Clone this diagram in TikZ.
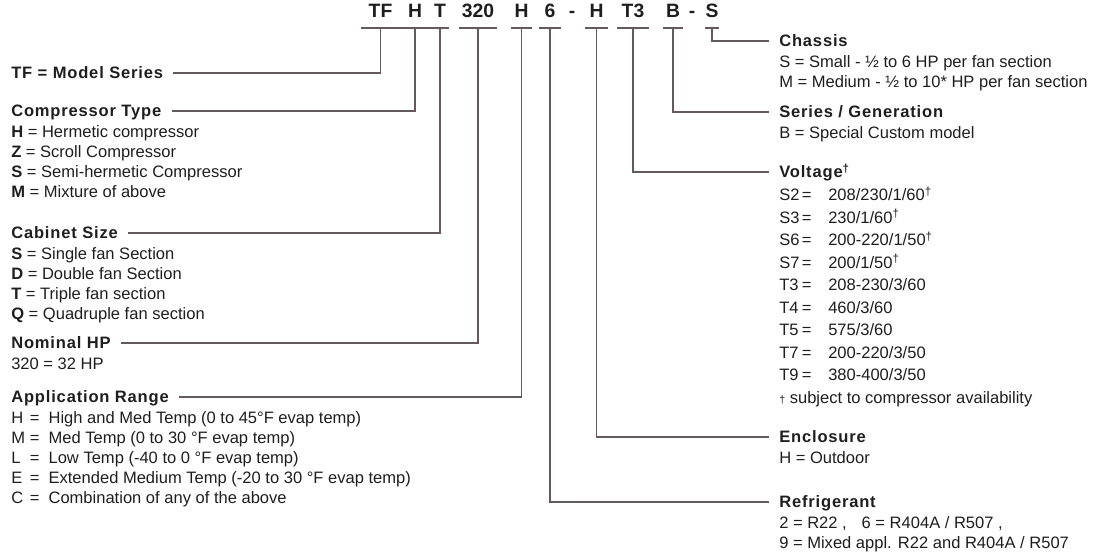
\documentclass[tikz,border=0pt]{standalone}
\usepackage{fontspec}
\setmainfont{Liberation Sans}
\newfontfamily\headfont{Liberation Sans}[LetterSpace=5]
\usepackage{xcolor}
\usepackage{tikz}
\usetikzlibrary{positioning, calc}

\definecolor{wire}{RGB}{98,90,92}
\definecolor{ink}{RGB}{30,30,30}
\newcommand{\dagmark}{\textsuperscript{†}}
\newcommand{\approw}[2]{\makebox[14pt][l]{#1}\makebox[14pt][l]{=}#2}
\newcommand{\voltrow}[2]{\makebox[17pt][l]{#1}\makebox[19.75pt][l]{=}#2}

\begin{document}
\begin{tikzpicture}[x=0.75pt,y=-0.75pt,
	code node/.style={font=\fontsize{14.5}{15}\selectfont\bfseries,text=ink,inner xsep=0pt,inner ysep=0pt,text depth=7.5pt,anchor=south},
	head node/.style={font=\fontsize{12.4}{15}\selectfont\headfont\bfseries,text=ink,inner xsep=7.5pt,inner ysep=0pt,text height=8.9pt,text depth=0pt,anchor=west},
	item node/.style={font=\fontsize{12.4}{15}\selectfont,text=ink,align=left,inner xsep=7.5pt,inner ysep=0pt},
	link line/.style={draw=wire,line width=1.1pt}]
	
	\useasboundingbox (0,0) rectangle (1098,555);
	
	% model code
	\node[code node, minimum width=29.25pt] (cTF) at (380.5,28) {TF};
	\node[code node, minimum width=10.5pt] (cHc) at (415,28) {H};
	\node[code node, minimum width=13.5pt] (cT) at (440,28) {T};
	\node[code node, minimum width=28.5pt] (c320) at (478,28) {320};
	\node[code node, minimum width=15.75pt] (cHa) at (521.5,28) {H};
	\node[code node, minimum width=16.5pt] (c6) at (550,28) {6};
	\node[code node] (d1) at (572,28) {-};
	\node[code node, minimum width=17.25pt] (cHe) at (596.5,28) {H};
	\node[code node, minimum width=23.25pt] (cT3) at (633,28) {T3};
	\node[code node, minimum width=15pt] (cB) at (673,28) {B};
	\node[code node] (d2) at (692,28) {-};
	\node[code node, minimum width=9pt] (cS) at (712,28) {S};
	
	% left side
	\node[head node] (hTF) at (1,73) {TF = Model Series};
	
	\node[head node] (hComp) at (1,111) {Compressor Type};
	\node[item node, below=4.5pt of hComp.south west, anchor=north west] (lComp)
	{\strut\textbf{H} = Hermetic compressor\\ \textbf{Z} = Scroll Compressor\\
		\textbf{S} = Semi-hermetic Compressor\\ \textbf{M} = Mixture of above};
	
	\node[head node] (hCab) at (1,233) {Cabinet Size};
	\node[item node, below=4.5pt of hCab.south west, anchor=north west] (lCab)
	{\strut\textbf{S} = Single fan Section\\ \textbf{D} = Double fan Section\\
		\textbf{T} = Triple fan section\\ \textbf{Q} = Quadruple fan section};
	
	\node[head node] (hNom) at (1,343) {Nominal HP};
	\node[item node, below=4.5pt of hNom.south west, anchor=north west] (lNom)
	{\strut 320 = 32 HP};
	
	\node[head node] (hApp) at (1,397) {Application Range};
	\node[item node, below=4.5pt of hApp.south west, anchor=north west] (lApp)
	{\strut\approw{H}{High and Med Temp (0 to 45°F evap temp)}\\
		\approw{M}{Med Temp (0 to 30 °F evap temp)}\\
		\approw{L}{Low Temp (-40 to 0 °F evap temp)}\\
		\approw{E}{Extended Medium Temp (-20 to 30 °F evap temp)}\\
		\approw{C}{Combination of any of the above}};
	
	% right side
	\node[head node] (hChas) at (769,41) {Chassis};
	\node[item node, below=4.5pt of hChas.south west, anchor=north west] (lChas)
	{\strut S = Small - ½ to 6 HP per fan section\\ M = Medium - ½ to 10* HP per fan section};
	
	\node[head node] (hSer) at (769,112) {Series / Generation};
	\node[item node, below=4.5pt of hSer.south west, anchor=north west] (lSer)
	{\strut B = Special Custom model};
	
	\node[head node] (hVolt) at (769,172) {Voltage\dagmark};
	\node[item node, font=\fontsize{12.4}{16.875}\selectfont, below=5.06pt of hVolt.south west, anchor=north west] (lVolt)
	{\strut\voltrow{S2}{208/230/1/60\dagmark}\\ \voltrow{S3}{230/1/60\dagmark}\\
		\voltrow{S6}{200-220/1/50\dagmark}\\ \voltrow{S7}{200/1/50\dagmark}\\
		\voltrow{T3}{208-230/3/60}\\ \voltrow{T4}{460/3/60}\\ \voltrow{T5}{575/3/60}\\
		\voltrow{T7}{200-220/3/50}\\ \voltrow{T9}{380-400/3/50}\\
		{\footnotesize †} subject to compressor availability};
	
	\node[head node] (hEnc) at (769,437) {Enclosure};
	\node[item node, below=4.5pt of hEnc.south west, anchor=north west] (lEnc)
	{\strut H = Outdoor};
	
	\node[head node] (hRef) at (769,502) {Refrigerant};
	\node[item node, below=4.5pt of hRef.south west, anchor=north west] (lRef)
	{\strut 2 = R22 ,\hspace{0.9em}6 = R404A / R507 ,\\ 9 = Mixed appl. R22 and R404A / R507};
	
	% underlines
	\draw[link line] (cTF.south west) -- (cT.south east)
	(c320.south west) -- (c320.south east)
	(cHa.south west) -- (cHa.south east)
	(c6.south west) -- (c6.south east)
	(cHe.south west) -- (cHe.south east)
	(cT3.south west) -- (cT3.south east)
	(cB.south west) -- (cB.south east)
	(cS.south west) -- (cS.south east);
	
	% leaders
	\draw[link line] (cTF.south) |- (hTF.east);
	\draw[link line] (cHc.south) |- (hComp.east);
	\draw[link line] (cT.south) |- (hCab.east);
	\draw[link line] (c320.south) |- (hNom.east);
	\draw[link line] (cHa.south) |- (hApp.east);
	\draw[link line] (c6.south) |- (hRef.west);
	\draw[link line] (cHe.south) |- (hEnc.west);
	\draw[link line] (cT3.south) |- (hVolt.west);
	\draw[link line] (cB.south) |- (hSer.west);
	\draw[link line] (cS.south) |- (hChas.west);
\end{tikzpicture}
\end{document}
